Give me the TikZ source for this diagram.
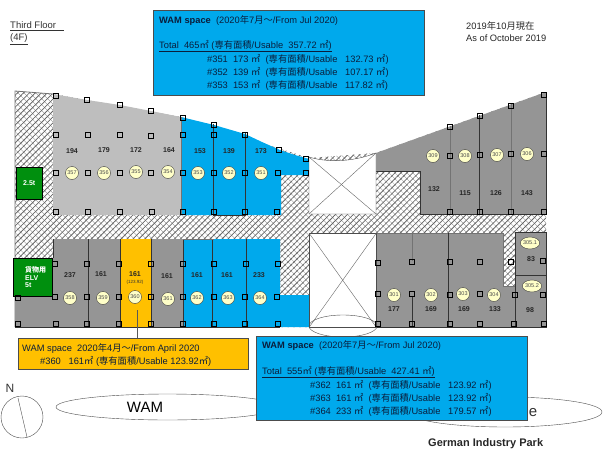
\documentclass[tikz,border=0pt]{standalone}
\usepackage{fontspec}
\setmainfont{Liberation Sans}
\newfontfamily\cjk{Noto Sans CJK JP}
\usetikzlibrary{shapes.geometric,patterns.meta,positioning}
\definecolor{wamblue}{HTML}{00A9EC}
\definecolor{wamorange}{HTML}{FFC000}
\definecolor{roomlight}{HTML}{BEBEBE}
\definecolor{roomdark}{HTML}{959595}
\definecolor{liftgreen}{HTML}{008F0E}
\definecolor{tagyellow}{HTML}{FFFFC8}
\definecolor{inktext}{HTML}{0A1E3C}
\newcommand{\sqm}{{\cjk ㎡}}
\newcommand{\usable}{{\cjk 専有面積}/Usable}

\begin{document}
\begin{tikzpicture}[x=1pt,y=-1pt,
		column/.style = {draw=black, line width=.7pt, minimum size=4.5pt, inner sep=0pt},
		tag/.style    = {circle, draw=black!75, fill=tagyellow, minimum size=13pt, inner sep=0pt, font=\fontsize{5.5}{6}\selectfont, text=black!70},
		tagwide/.style= {tag, ellipse, minimum width=19pt, minimum height=12pt},
		area/.style   = {inner sep=0pt, font=\fontsize{7}{8}\selectfont\bfseries, text=black!85},
		infobox/.style= {draw=black!70, line width=.7pt, inner sep=0pt, anchor=north west},
		infotext/.style = {anchor=west, inner sep=0pt, text=inktext, font=\fontsize{9.3}{11}\selectfont},
		void/.style   = {draw=black!70, fill=white, inner sep=0pt, anchor=north west},
		lift/.style   = {draw=black, fill=liftgreen, inner sep=0pt, anchor=north west, text=white, font=\fontsize{7}{8.7}\selectfont\bfseries},
		wall/.style   = {line width=.8pt, draw=black!80},
		softwall/.style = {line width=.8pt, draw=black!55},
		bubble/.style = {ellipse, draw=black!70, fill=white, inner sep=0pt}]
	\useasboundingbox (0,0) rectangle (605,455);
	
	% hatched floor plate
	\path[pattern={Lines[angle=135,distance=4.2pt,line width=.35pt]},pattern color=black!45]
	(15,91) -- (53,94) -- (181,117) -- (309,158) -- (376,153) -- (546,92) -- (546,327) -- (15,327) -- cycle;
	\path[pattern={Lines[angle=45,distance=4.2pt,line width=.8pt]},pattern color=black!60]
	(15,91) -- (53,94) -- (181,117) -- (309,158) -- (376,153) -- (546,92) -- (546,327) -- (15,327) -- cycle;
	\draw[softwall] (53,94) -- (15,91) -- (15,327);
	
	% upper rooms
	\fill[roomlight] (53,94) -- (87,100) -- (120,105) -- (151,111) -- (181,117) -- (181,215) -- (53,215) -- cycle;
	\fill[wamblue] (181,117) -- (214,125) -- (245,134) -- (262,142) -- (280,150) -- (295,155) -- (309,159) -- (309,175) -- (281,175) -- (281,215) -- (181,215) -- cycle;
	\fill[roomdark] (376,153) -- (546,92) -- (546,214) -- (420,214) -- (420,171) -- (376,171) -- cycle;
	\draw[softwall] (181,117) -- (181,215);
	\draw[wall] (213,124) -- (213,215) -- (245,215) -- (245,133);
	\draw[softwall] (450,126) -- (450,214);
	\draw[wall] (479,115) -- (479,214);
	\draw[softwall] (511,104) -- (511,214);
	\draw[wall] (546,92) -- (546,214) -- (420,214) -- (420,171) -- (376,171);
	
	% lower rooms
	\fill[roomdark] (53,239) rectangle (120,327);
	\fill[roomdark] (15,296) rectangle (53,327);
	\fill[wamorange] (120,239) rectangle (151,327);
	\fill[roomdark] (151,239) rectangle (183,327);
	\fill[wamblue] (183,239) -- (280,239) -- (280,295) -- (309,295) -- (309,327) -- (183,327) -- cycle;
	\fill[roomdark] (376,233) -- (503,233) -- (503,286) -- (515,286) -- (515,232) -- (546,232) -- (546,327) -- (376,327) -- cycle;
	\foreach \value in {88,120,151,183,212,246}
	\draw[wall] (\value,239) -- (\value,327);
	\draw[wall] (53,239) -- (53,258);
	\draw[softwall] (183,239) -- (214,239);
	\draw[wall] (15,327) -- (280,327);
	\draw[wall] (376,327) -- (546,327) -- (546,232) -- (515,232) -- (515,327);
	\draw[wall] (515,275) -- (546,275);
	\draw[softwall] (376,233) -- (503,233) -- (503,286) -- (515,286);
	\draw[wall] (448,233) -- (448,327);
	\draw[softwall] (412,233) -- (412,261);
	\draw[wall] (412,296) -- (412,327);
	
	% lifts
	\node[lift, minimum width=26pt, minimum height=32pt] (lift25) at (16,167) {2.5t};
	\node[lift, minimum width=39pt, minimum height=38pt, align=left] (lift5) at (13,258) {\hspace*{6pt}{\cjk 貨物用}\\[-1pt]\hspace*{6pt}ELV\\[-1pt]\hspace*{6pt}5t};
	
	% voids
	\fill[white] (309,157) .. controls (325,162) and (350,163) .. (376,153) -- (376,214) -- (309,214) -- cycle;
	\coordinate (v1nw) at (309,157);
	\coordinate (v1ne) at (376,153);
	\coordinate (v1sw) at (309,214);
	\coordinate (v1se) at (376,214);
	\draw[black!70] (v1nw) .. controls (325,162) and (350,163) .. (v1ne) -- (v1se) -- (v1sw) -- cycle;
	\draw[black!60] (v1nw) -- (v1se);
	\draw[black!60] (v1ne) -- (v1sw);
	\node[void, minimum width=67pt, minimum height=94pt] (void2) at (309,233) {};
	\draw[black!60] (void2.north west) -- (void2.south east);
	\draw[black!60] (void2.north east) -- (void2.south west);
	\node[ellipse, draw=black!70, minimum width=68pt, minimum height=22pt, inner sep=0pt] (well) at (343,326) {};
	
	% columns
	\foreach \x/\y [count=\i] in {56/96,87/100,120/105,151/111,183/118,214/125,245/135,
		56/135,88/135,120/135,151/136,183/135,214/135,279/150,245/173,306/159,
		56/173,88/173,120/173,151/173,183/173,214/173,278/173,306/173,
		56/212,88/212,120/212,152/212,183/212,214/212,245/212,277/212,
		450/127,480/116,511/106,544/95,450/156,480/155,511/154,544/154,
		450/212,480/212,511/212,544/212,
		55/264,87/264,119/264,151/264,183/264,214/264,246/264,278/264,
		18/298,55/297,87/297,119/297,151/297,183/297,214/297,245/297,277/297,
		18/324,56/324,87/324,119/324,151/324,183/324,214/324,245/324,278/324,
		378/263,412/262,450/262,480/262,511/262,543/261,
		378/294,412/294,450/295,480/294,515/295,543/295,
		378/324,412/324,450/324,480/324,514/324,544/324}
	\node[column] (col\i) at (\x,\y) {};
	
	% tags
	\foreach \id/\x/\y in {357/72/173,356/104/173,355/136/172,354/168/172,353/198/173,352/229/173,351/261/173,
		309/433/156,308/465/156,307/497/155,306/527/154,
		358/70/298,359/103/298,360/135/297,361/168/299,362/197/298,363/228/298,364/260/298,
		301/394/295,302/431/295,303/463/294,304/494/295}
	\node[tag] (t\id) at (\x,\y) {\id};
	\node[tagwide] (t3051) at (530,243) {305.1};
	\node[tagwide] (t3052) at (532,286) {305.2};
	
	% areas
	\foreach \val/\x/\y [count=\i] in {194/72/151,179/104/150,172/136/150,164/169/150,153/200/151,139/229/151,173/261/151,
		132/434/189,115/465/193,126/496/193,143/527/193,
		237/70/275,161/101/274,161/135/274,161/167/276,161/197/275,161/227/275,233/259/275,
		177/394/309,169/431/309,169/464/309,133/495/309,83/531/259,98/530/310}
	\node[area] (a\i) at (\x,\y) {\val};
	\node[inner sep=0pt, font=\fontsize{4.5}{5}\selectfont, text=black!80] (a360u) at (135,282) {(123.92)};
	
	% headings
	\node[anchor=west, inner sep=0pt, font=\fontsize{9.5}{11}\selectfont, text=black!80] (floorname) at (10,26) {\underline{Third Floor\ \ \ }};
	\node[anchor=west, inner sep=0pt, font=\fontsize{9.5}{11}\selectfont, text=black!80] (floorno) at (10,39) {\underline{(4F)}};
	\node[anchor=west, inner sep=0pt, font=\fontsize{9.3}{11}\selectfont, text=black!85] (dateja) at (466,26) {2019{\cjk 年}10{\cjk 月現在}};
	\node[anchor=west, inner sep=0pt, font=\fontsize{9.3}{11}\selectfont, text=black!85] (dateen) at (466,38) {As of October 2019};
	
	% outer bubbles, the boxes go over them
	\node[bubble, minimum width=223pt, minimum height=26pt, font=\fontsize{15}{16}\selectfont] (wam) at (167.5,407) {\hspace*{-45pt}WAM};
	\node[bubble, minimum width=194pt, minimum height=30pt] (park) at (505,412) {};
	\node[inner sep=0pt, font=\fontsize{15}{16}\selectfont, text=black!80] (parkend) at (533,413) {e};
	\node[anchor=west, inner sep=0pt, font=\fontsize{11}{13}\selectfont\bfseries, text=black!85] (parkname) at (428,444) {German Industry Park};
	
	% upper blue box
	\node[infobox, fill=wamblue, minimum width=271pt, minimum height=85pt] (box351) at (153,10) {};
	\begin{scope}[every node/.style={infotext}]
		\node (b1a) at (159,21) {\textbf{WAM space}\ \ (2020{\cjk 年}7{\cjk 月～}/From Jul 2020)};
		\node (b1b) at (159,46) {\underline{Total\ \ 465\sqm\ (\usable\ \ 357.72 \sqm)}};
		\node (b1c) at (207,59) {\#351\ \ 173 \sqm\ \ (\usable\ \ \ 132.73 \sqm)};
		\node (b1d) at (207,72) {\#352\ \ 139 \sqm\ \ (\usable\ \ \ 107.17 \sqm)};
		\node (b1e) at (207,85) {\#353\ \ 153 \sqm\ \ (\usable\ \ \ 117.82 \sqm)};
	\end{scope}
	
	% orange box
	\node[infobox, fill=wamorange, minimum width=230pt, minimum height=31pt] (box360) at (18,338) {};
	\coordinate (lead360) at (137,310);
	\draw[black!65, line width=.7pt] (lead360) -- (box360.north -| lead360);
	\begin{scope}[every node/.style={infotext}]
		\node (b2a) at (22,349) {WAM space\ \ 2020{\cjk 年}4{\cjk 月～}/From April 2020};
		\node (b2b) at (40,361) {\#360\ \ \ 161\sqm\ ({\cjk 専有面積}/Usable 123.92\sqm)};
	\end{scope}
	
	% lower blue box
	\node[infobox, fill=wamblue, minimum width=271pt, minimum height=84pt] (box362) at (256,336) {};
	\begin{scope}[every node/.style={infotext}]
		\node (b3a) at (262,346) {\textbf{WAM space}\ \ (2020{\cjk 年}7{\cjk 月～}/From Jul 2020)};
		\node (b3b) at (262,372) {\underline{Total\ \ 555\sqm\ (\usable\ \ 427.41 \sqm)}};
		\node (b3c) at (310,385) {\#362\ \ 161 \sqm\ \ (\usable\ \ \ 123.92 \sqm)};
		\node (b3d) at (310,398) {\#363\ \ 161 \sqm\ \ (\usable\ \ \ 123.92 \sqm)};
		\node (b3e) at (310,411) {\#364\ \ 233 \sqm\ \ (\usable\ \ \ 179.57 \sqm)};
	\end{scope}
	
	% north mark
	\node[circle, draw=black!70, minimum size=42pt, inner sep=0pt] (compass) at (22,417) {};
	\coordinate (northend) at (18,398);
	\coordinate (southend) at (27,437);
	\draw[black!70] (northend) -- (southend);
	\node[inner sep=0pt, font=\fontsize{12}{14}\selectfont, text=black!80] (north) at (10,388) {N};
	
\end{tikzpicture}
\end{document}
